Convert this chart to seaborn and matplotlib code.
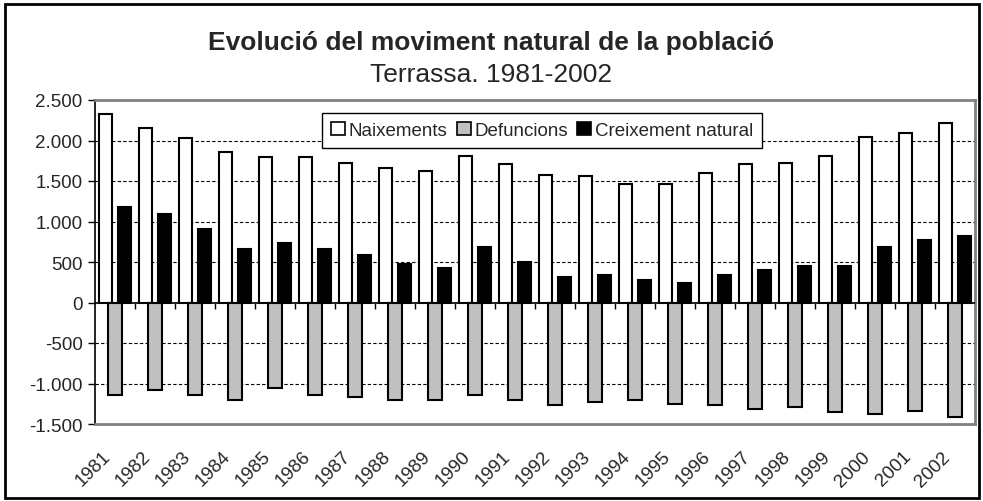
import numpy as np
import pandas as pd
import matplotlib
matplotlib.use("Agg")
import matplotlib.pyplot as plt
import matplotlib.patches as mpatches
from matplotlib.ticker import FuncFormatter, MultipleLocator
import seaborn as sns

years = [str(y) for y in range(1981, 2003)]
naixements = [2325, 2157, 2025, 1861, 1796, 1796, 1726, 1660, 1624, 1812, 1706,
              1574, 1558, 1468, 1468, 1599, 1706, 1726, 1812, 2046, 2095, 2218]
defuncions = [-1144, -1078, -1144, -1206, -1053, -1144, -1165, -1206, -1206, -1144, -1206,
              -1268, -1231, -1206, -1251, -1268, -1317, -1289, -1355, -1379, -1338, -1417]
creixement = [1177, 1091, 902, 664, 730, 664, 582, 472, 430, 681, 496,
              320, 344, 279, 242, 344, 406, 451, 451, 681, 767, 816]
series_names = ["Naixements", "Defuncions", "Creixement natural"]
series_colors = ["#FFFFFF", "#C0C0C0", "#000000"]

df = pd.DataFrame({"any": years * 3,
                   "valor": naixements + defuncions + creixement,
                   "serie": [s for s in series_names for _ in years]})

sns.set_style("white")
plt.rcParams["font.family"] = ["Liberation Sans", "DejaVu Sans"]

fig = plt.figure(figsize=(9.83, 5.02), dpi=100)
ax = fig.add_axes([95 / 983, 1 - 425 / 502, 880 / 983, 324 / 502])

sns.barplot(data=df, x="any", y="valor", hue="serie", hue_order=series_names,
            palette=series_colors, width=0.69, dodge=True, edgecolor="black",
            linewidth=1.5, legend=False, ax=ax, zorder=3)

# widen bars a bit so they overlap like the original (Excel overlap)
for p in ax.patches:
    c = p.get_x() + p.get_width() / 2
    p.set_width(0.33)
    p.set_x(c - 0.165)

ax.set_ylim(-1500, 2500)
ax.set_xlim(-0.5, len(years) - 0.5)
ax.yaxis.set_major_locator(MultipleLocator(500))
ax.yaxis.set_major_formatter(FuncFormatter(lambda v, _: f"{int(v):,}".replace(",", ".")))
ax.tick_params(axis="y", direction="out", length=5, width=1, color="black",
               labelsize=13.5, pad=4, left=True)
for v in range(-1000, 2500, 500):
    if v != 0:
        ax.axhline(v, color="black", lw=0.8, ls=(0, (3, 2)), zorder=1)
ax.axhline(0, color="black", lw=1.2, zorder=4)

ax.set_xlabel("")
ax.set_ylabel("")
ax.set_xticks(range(len(years)))
ax.set_xticklabels(years, rotation=45, ha="right", rotation_mode="anchor", fontsize=13.5)
ax.tick_params(axis="x", length=0, pad=17)
for lbl in ax.get_xticklabels():
    lbl.set_transform(lbl.get_transform() +
                      matplotlib.transforms.ScaledTranslation(-13 / 100, 0, fig.dpi_scale_trans))

# tick marks on the zero line at category boundaries
sec = ax.secondary_xaxis(1500 / 4000)
sec.set_xticks(np.arange(0.5, len(years) - 0.5, 1))
sec.set_xticklabels([])
sec.tick_params(direction="out", length=4, width=1, color="black")
sec.spines["bottom"].set_visible(False)

for side in ["top", "right", "bottom"]:
    ax.spines[side].set_color("#808080")
    ax.spines[side].set_linewidth(2)
ax.spines["left"].set_color("black")
ax.spines["left"].set_linewidth(1.2)

handles = [mpatches.Patch(facecolor=c, edgecolor="black", lw=1.2, label=n)
           for n, c in zip(series_names, series_colors)]
leg = ax.legend(handles=handles, ncol=3, loc="upper center", bbox_to_anchor=(0.508, 0.988),
                frameon=True, fancybox=False, edgecolor="black", fontsize=13.5,
                handlelength=0.75, handleheight=0.75, handletextpad=0.2, columnspacing=0.5,
                borderpad=0.45, framealpha=1)
leg.get_frame().set_linewidth(1)

fig.text(0.5, 1 - 43 / 502, "Evolució del moviment natural de la població",
         ha="center", va="center", fontsize=19, fontweight="bold")
fig.text(0.5, 1 - 75 / 502, "Terrassa. 1981-2002", ha="center", va="center", fontsize=19)

fig.patches.append(mpatches.Rectangle((5 / 983, 3 / 502), 974 / 983, 494 / 502,
                                      transform=fig.transFigure, fill=False,
                                      edgecolor="black", lw=2))

fig.savefig("out.png", dpi=100)
